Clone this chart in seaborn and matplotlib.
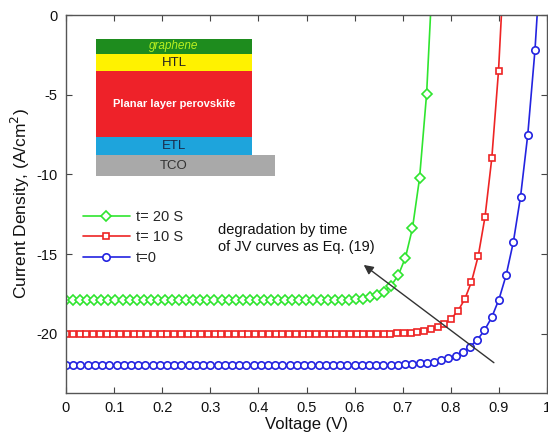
import matplotlib
matplotlib.use("Agg")
import matplotlib.pyplot as plt
import seaborn as sns
from matplotlib.patches import Rectangle

# ---------------- data ----------------
V_green = [0, 0.0147, 0.0294, 0.0441, 0.0588, 0.0735, 0.0882, 0.1029, 0.1176, 0.1323,
           0.147, 0.1617, 0.1764, 0.1911, 0.2058, 0.2205, 0.2352, 0.2499, 0.2646, 0.2793,
           0.294, 0.3087, 0.3234, 0.3381, 0.3528, 0.3675, 0.3822, 0.3969, 0.4116, 0.4263,
           0.441, 0.4557, 0.4704, 0.4851, 0.4998, 0.5145, 0.5292, 0.5439, 0.5586, 0.5733,
           0.588, 0.6027, 0.6174, 0.6321, 0.6468, 0.6615, 0.6762, 0.6909, 0.7056, 0.7203,
           0.735, 0.7497, 0.7644]
J_green = [-17.9, -17.9, -17.9, -17.9, -17.9, -17.9, -17.9, -17.9, -17.9, -17.9,
           -17.9, -17.9, -17.9, -17.9, -17.9, -17.9, -17.9, -17.9, -17.9, -17.9,
           -17.9, -17.9, -17.9, -17.9, -17.9, -17.9, -17.9, -17.9, -17.9, -17.9,
           -17.9, -17.9, -17.9, -17.9, -17.9, -17.9, -17.9, -17.9, -17.89, -17.88,
           -17.86, -17.83, -17.78, -17.71, -17.57, -17.34, -16.96, -16.31, -15.22, -13.37,
           -10.24, -4.95, 4.0]

V_red = [0, 0.0141, 0.0281, 0.0422, 0.0562, 0.0703, 0.0843, 0.0984, 0.1124, 0.1265,
         0.1405, 0.1546, 0.1686, 0.1827, 0.1967, 0.2108, 0.2248, 0.2389, 0.2529, 0.267,
         0.281, 0.2951, 0.3091, 0.3232, 0.3372, 0.3513, 0.3653, 0.3794, 0.3934, 0.4075,
         0.4215, 0.4356, 0.4496, 0.4637, 0.4777, 0.4918, 0.5058, 0.5199, 0.5339, 0.548,
         0.562, 0.5761, 0.5901, 0.6042, 0.6182, 0.6323, 0.6463, 0.6604, 0.6744, 0.6885,
         0.7025, 0.7166, 0.7306, 0.7447, 0.7587, 0.7728, 0.7868, 0.8009, 0.8149, 0.829,
         0.843, 0.8571, 0.8711, 0.8852, 0.8992, 0.9133]
J_red = [-20.0, -20.0, -20.0, -20.0, -20.0, -20.0, -20.0, -20.0, -20.0, -20.0,
         -20.0, -20.0, -20.0, -20.0, -20.0, -20.0, -20.0, -20.0, -20.0, -20.0,
         -20.0, -20.0, -20.0, -20.0, -20.0, -20.0, -20.0, -20.0, -20.0, -20.0,
         -20.0, -20.0, -20.0, -20.0, -20.0, -20.0, -20.0, -20.0, -20.0, -20.0,
         -20.0, -20.0, -20.0, -20.0, -20.0, -20.0, -20.0, -19.98, -19.97, -19.96,
         -19.94, -19.91, -19.87, -19.81, -19.71, -19.57, -19.35, -19.03, -18.55, -17.82,
         -16.73, -15.10, -12.66, -8.99, -3.5, 4.7]

V_blue = [0, 0.015, 0.03, 0.045, 0.06, 0.075, 0.09, 0.105, 0.12, 0.135,
          0.15, 0.165, 0.18, 0.195, 0.21, 0.225, 0.24, 0.255, 0.27, 0.285,
          0.3, 0.315, 0.33, 0.345, 0.36, 0.375, 0.39, 0.405, 0.42, 0.435,
          0.45, 0.465, 0.48, 0.495, 0.51, 0.525, 0.54, 0.555, 0.57, 0.585,
          0.6, 0.615, 0.63, 0.645, 0.66, 0.675, 0.69, 0.705, 0.72, 0.735,
          0.75, 0.765, 0.78, 0.795, 0.81, 0.825, 0.84, 0.855, 0.87, 0.885,
          0.9, 0.915, 0.93, 0.945, 0.96, 0.975, 0.99]
J_blue = [-21.97, -21.97, -21.97, -21.97, -21.97, -21.97, -21.97, -21.97, -21.97, -21.97,
          -21.97, -21.97, -21.97, -21.97, -21.97, -21.97, -21.97, -21.97, -21.97, -21.97,
          -21.97, -21.97, -21.97, -21.97, -21.97, -21.97, -21.97, -21.97, -21.97, -21.97,
          -21.97, -21.97, -21.97, -21.97, -21.97, -21.97, -21.97, -21.97, -21.97, -21.97,
          -21.97, -21.97, -21.96, -21.96, -21.95, -21.94, -21.93, -21.91, -21.88, -21.85,
          -21.80, -21.74, -21.65, -21.52, -21.35, -21.12, -20.80, -20.37, -19.77, -18.96,
          -17.84, -16.32, -14.24, -11.39, -7.51, -2.2, 5.07]

labels = ["t= 20 S", "t= 10 S", "t=0"]
x_ticks = [0, 0.1, 0.2, 0.3, 0.4, 0.5, 0.6, 0.7, 0.8, 0.9, 1.0]
x_tick_labels = ["0", "0.1", "0.2", "0.3", "0.4", "0.5", "0.6", "0.7", "0.8", "0.9", "1"]
y_ticks = [-20, -15, -10, -5, 0]
y_tick_labels = ["-20", "-15", "-10", "-5", "0"]

# ---------------- style ----------------
sns.set_theme(style="ticks")
plt.rcParams["font.family"] = ["Liberation Sans", "DejaVu Sans"]

fig = plt.figure(figsize=(5.48, 4.40), dpi=100)
ax = fig.add_axes([66 / 548, 1 - 393 / 440, 481 / 548, 378 / 440])

c_green = "#2fe52f"
c_red = "#ee2424"
c_blue = "#2323e0"

series = [
    (V_green, J_green, c_green, "D", 5.0, labels[0]),
    (V_red, J_red, c_red, "s", 4.4, labels[1]),
    (V_blue, J_blue, c_blue, "o", 5.3, labels[2]),
]
for V, J, col, mk, ms, lab in series:
    sns.lineplot(x=V, y=J, ax=ax, color=col, marker=mk, markersize=ms,
                 markerfacecolor="white", markeredgecolor=col, markeredgewidth=1.2,
                 linewidth=1.2, label=lab, errorbar=None, sort=False)

ax.set_xlim(0, 1)
ax.set_ylim(-23.7, 0)
ax.set_xticks(x_ticks)
ax.set_xticklabels(x_tick_labels)
ax.set_yticks(y_ticks)
ax.set_yticklabels(y_tick_labels)
ax.tick_params(direction="in", top=True, right=True, length=4, width=0.8,
               labelsize=10.5, colors="#444444", labelcolor="#111111", pad=6)
for s in ax.spines.values():
    s.set_color("#555555")
    s.set_linewidth(1.0)
ax.set_xlabel("Voltage (V)", fontsize=12, color="#111111", labelpad=1)
ax.set_ylabel("Current Density, (A/cm$^2$)", fontsize=12.5, color="#111111", labelpad=3)

leg = ax.legend(loc="upper left", bbox_to_anchor=(0.035, 0.485), frameon=False,
                fontsize=10.5, handlelength=3.2, handletextpad=0.45,
                labelspacing=0.45, borderpad=0, borderaxespad=0)

# ---------------- annotation ----------------
ax.text(0.317, -14.0, "degradation by time\nof JV curves as Eq. (19)", fontsize=10.5,
        ha="left", va="center", color="#111111", linespacing=1.3)
ax.annotate("", xy=(0.619, -15.67), xytext=(0.8896, -21.8),
            arrowprops=dict(arrowstyle="-|>", color="#333333", lw=1.0,
                            mutation_scale=14, shrinkA=0, shrinkB=0))

# ---------------- inset device stack ----------------
def ax_x(px):
    return (px - 66) / 481

def ax_y(py):
    return (393 - py) / 378

layers = [
    (96, 252, 39, 54, "#1e8c1e", "graphene", "#b8f020", "italic", "normal", 8.5),
    (96, 252, 54, 71, "#fff200", "HTL", "#222222", "normal", "normal", 9.5),
    (96, 252, 71, 137, "#ee2229", "Planar layer perovskite", "white", "normal", "bold", 8),
    (96, 252, 137, 155, "#1ea4dc", "ETL", "#1a2a4a", "normal", "normal", 9.5),
    (96, 275, 155, 176, "#a9a9a9", "TCO", "#333333", "normal", "normal", 9.5),
]
for x0, x1, y0, y1, fc, txt, tc, style, weight, fs in layers:
    ax.add_patch(Rectangle((ax_x(x0), ax_y(y1)), ax_x(x1) - ax_x(x0), ax_y(y0) - ax_y(y1),
                           transform=ax.transAxes, facecolor=fc, edgecolor="none", zorder=3))
    ax.text((ax_x(x0) + ax_x(x1)) / 2 if txt != "TCO" else ax_x(174), (ax_y(y0) + ax_y(y1)) / 2,
            txt, transform=ax.transAxes, ha="center", va="center", color=tc,
            fontstyle=style, fontweight=weight, fontsize=fs, zorder=4)

fig.savefig("out.png", dpi=100)
